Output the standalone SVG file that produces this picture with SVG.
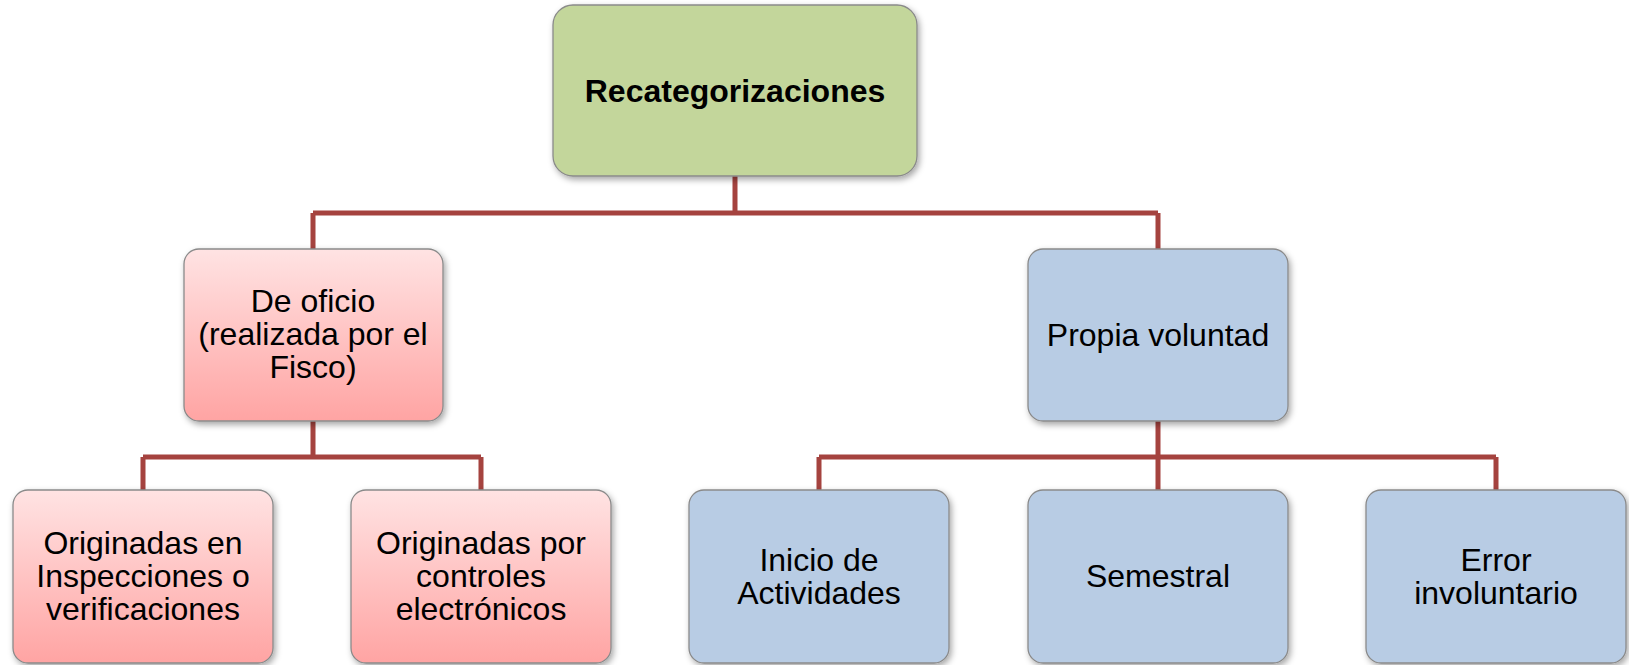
<svg xmlns="http://www.w3.org/2000/svg" width="1629" height="665" viewBox="0 0 1629 665">
<defs>
<linearGradient id="pink" x1="0" y1="0" x2="0" y2="1">
<stop offset="0" stop-color="#FFE3E3"/>
<stop offset="1" stop-color="#FFA4A3"/>
</linearGradient>
<filter id="sh" x="-10%" y="-10%" width="125%" height="130%">
<feDropShadow dx="2" dy="3" stdDeviation="3" flood-color="#000" flood-opacity="0.35"/>
</filter>
</defs>
<style>
.box{stroke:#8a8a8a;stroke-width:1.3;filter:url(#sh)}
.green{fill:#C3D69B}
.pink{fill:url(#pink)}
.blue{fill:#B8CCE4}
.t{font-family:"Liberation Sans",Arial,sans-serif;font-size:32px;fill:#000;text-anchor:middle}
.b{font-weight:bold;font-size:32px}
.conn{fill:none;stroke:#A5433F;stroke-width:5}
</style>
<rect width="1629" height="665" fill="#fff"/>
<g id="connectors" class="conn">
<path d="M735 176 V213 M313 213 H1158 M313 213 V249 M1158 213 V249"/>
<path d="M313 421 V457 M143 457 H481 M143 457 V490 M481 457 V490"/>
<path d="M1158 421 V457 M819 457 H1496 M819 457 V490 M1158 457 V490 M1496 457 V490"/>
</g>
<g id="root">
<rect class="box green" x="553" y="5" width="364" height="171" rx="20"/>
<text class="t b" x="735" y="102">Recategorizaciones</text>
</g>
<g id="deoficio">
<rect class="box pink" x="184" y="249" width="259" height="172" rx="15"/>
<text class="t" x="313" y="312">De oficio</text>
<text class="t" x="313" y="345">(realizada por el</text>
<text class="t" x="313" y="378">Fisco)</text>
</g>
<g id="propia">
<rect class="box blue" x="1028" y="249" width="260" height="172" rx="15"/>
<text class="t" x="1158" y="346">Propia voluntad</text>
</g>
<g id="inspecciones">
<rect class="box pink" x="13" y="490" width="260" height="173" rx="15"/>
<text class="t" x="143" y="554">Originadas en</text>
<text class="t" x="143" y="587">Inspecciones o</text>
<text class="t" x="143" y="620">verificaciones</text>
</g>
<g id="controles">
<rect class="box pink" x="351" y="490" width="260" height="173" rx="15"/>
<text class="t" x="481" y="554">Originadas por</text>
<text class="t" x="481" y="587">controles</text>
<text class="t" x="481" y="620">electrónicos</text>
</g>
<g id="inicio">
<rect class="box blue" x="689" y="490" width="260" height="173" rx="15"/>
<text class="t" x="819" y="571">Inicio de</text>
<text class="t" x="819" y="604">Actividades</text>
</g>
<g id="semestral">
<rect class="box blue" x="1028" y="490" width="260" height="173" rx="15"/>
<text class="t" x="1158" y="587">Semestral</text>
</g>
<g id="error">
<rect class="box blue" x="1366" y="490" width="260" height="173" rx="15"/>
<text class="t" x="1496" y="571">Error</text>
<text class="t" x="1496" y="604">involuntario</text>
</g>
</svg>
